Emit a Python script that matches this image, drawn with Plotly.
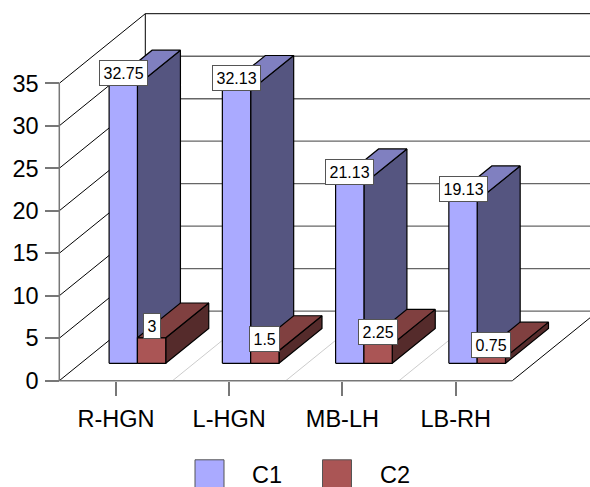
import plotly.graph_objects as go

# --- data ---
categories = ["R-HGN", "L-HGN", "MB-LH", "LB-RH"]
series_names = ["C1", "C2"]
c1_values = [32.75, 32.13, 21.13, 19.13]
c2_values = [3, 1.5, 2.25, 0.75]
y_ticks = [0, 5, 10, 15, 20, 25, 30, 35]

# --- style ---
FONT = "Liberation Sans"
C1_FACES = dict(front="#AAAAFF", top="#8080C0", side="#555580")
C2_FACES = dict(front="#AA5555", top="#804040", side="#552B2B")
GRID = "#666666"
AXIS = "#777777"
FLOOR = "#CCCCCC"

# --- figure geometry (pixels) ---
W, H = 590, 487
X0_PX, Y0_PX = 59.3, 380.7        # front-left floor corner
CAT_PX, UNIT_PX = 113.25, 8.497   # px per category, px per value unit
DEPTH_PX_X, DEPTH_PX_Y = 86.0, 69.6
DX = DEPTH_PX_X / CAT_PX          # oblique shift of full depth, in axis units
DY = DEPTH_PX_Y / UNIT_PX
BAR_W = 0.25
D_FRONT, D_BACK = 0.25, 0.75
n = len(categories)
top_val = y_ticks[-1]


def P(c, v, d):
    """Oblique projection: category pos, value, depth -> axis coordinates."""
    return c + d * DX, v + d * DY


def line(points, color, width):
    xs, ys = zip(*[P(*p) for p in points])
    return go.Scatter(x=xs, y=ys, mode="lines", showlegend=False, hoverinfo="skip",
                      line=dict(color=color, width=width), cliponaxis=True)


def face(points, color):
    xs, ys = zip(*[P(*p) for p in points])
    return go.Scatter(x=list(xs) + [xs[0]], y=list(ys) + [ys[0]], mode="lines",
                      fill="toself", fillcolor=color, showlegend=False, hoverinfo="skip",
                      line=dict(color="black", width=1.2))


fig = go.Figure()

# back wall and floor furniture
for v in y_ticks:
    if v != top_val:
        fig.add_trace(line([(0, v, 1), (n + 1, v, 1)], GRID, 1.4))
fig.add_trace(line([(0, top_val, 1), (n + 1, top_val, 1)], "black", 1))
fig.add_trace(line([(0, 0, 1), (0, top_val, 1)], "black", 1))
for v in y_ticks:
    fig.add_trace(line([(0, v, 0), (0, v, 1)], "black", 1))
for i in range(1, n):
    fig.add_trace(line([(i, 0, 0), (i, 0, 1)], FLOOR, 1))
fig.add_trace(line([(n, 0, 0), (n, 0, 1)], "black", 1))
fig.add_trace(line([(0, 0, 0), (n, 0, 0)], AXIS, 1.5))
fig.add_trace(line([(0, 0, 0), (0, top_val, 0)], AXIS, 1.5))


def bar(c_left, value, faces):
    c_right = c_left + BAR_W
    fig.add_trace(face([(c_right, 0, D_FRONT), (c_right, 0, D_BACK),
                        (c_right, value, D_BACK), (c_right, value, D_FRONT)], faces["side"]))
    fig.add_trace(face([(c_left, value, D_FRONT), (c_left, value, D_BACK),
                        (c_right, value, D_BACK), (c_right, value, D_FRONT)], faces["top"]))
    fig.add_trace(face([(c_left, 0, D_FRONT), (c_right, 0, D_FRONT),
                        (c_right, value, D_FRONT), (c_left, value, D_FRONT)], faces["front"]))


annotations = []


def value_label(c_left, value):
    x, y = P(c_left + BAR_W / 2, value, D_FRONT)
    annotations.append(dict(x=x, y=y, xref="x", yref="y", text=str(value), showarrow=False,
                            xanchor="center", yanchor="bottom", yshift=-1,
                            font=dict(family=FONT, size=16, color="black"),
                            bgcolor="white", bordercolor="#555555", borderwidth=1, borderpad=3.5))


for i in range(n):
    bar(i + 0.25, c1_values[i], C1_FACES)
    bar(i + 0.5, c2_values[i], C2_FACES)
for i in range(n):
    value_label(i + 0.25, c1_values[i])
    value_label(i + 0.5, c2_values[i])

# legend, placed in page coordinates
shapes = []
for name, faces, sw_x, txt_x in [(series_names[0], C1_FACES, 195, 252.7),
                                 (series_names[1], C2_FACES, 322.5, 380.7)]:
    shapes.append(dict(type="rect", xref="paper", yref="paper",
                       x0=sw_x / W, x1=(sw_x + 29) / W, y0=-0.01, y1=1 - 459.8 / H,
                       fillcolor=faces["front"], line=dict(color="#555555", width=1)))
    annotations.append(dict(xref="paper", yref="paper", x=txt_x / W, y=1 - 474.7 / H, text=name,
                            showarrow=False, xanchor="left", yanchor="middle",
                            xshift=-3, font=dict(family=FONT, size=23.5, color="black")))

fig.update_layout(
    width=W, height=H, margin=dict(l=0, r=0, t=0, b=0),
    paper_bgcolor="white", plot_bgcolor="white", showlegend=False, hovermode=False,
    annotations=annotations, shapes=shapes,
    font=dict(family=FONT, size=23.5, color="black"),
    xaxis=dict(range=[-X0_PX / CAT_PX, (W - X0_PX) / CAT_PX], showgrid=False, zeroline=False,
               showline=False, tickmode="array", tickvals=[i + 0.5 for i in range(n)],
               ticktext=categories, ticks="outside", ticklen=14, tickwidth=1.5, tickcolor=AXIS,
               anchor="free", position=(H - Y0_PX) / H, ticklabelstandoff=3,
               tickfont=dict(family=FONT, size=23.5, color="black")),
    yaxis=dict(range=[-(H - Y0_PX) / UNIT_PX, Y0_PX / UNIT_PX], showgrid=False, zeroline=False,
               showline=False, tickmode="array", tickvals=y_ticks, ticks="outside", ticklen=14,
               tickwidth=1.5, tickcolor=AXIS, anchor="free", position=X0_PX / W,
               ticklabelstandoff=2, tickfont=dict(family=FONT, size=23.5, color="black")),
)

fig.write_html("out.html", config=dict(displayModeBar=False),
               post_script="document.body.style.margin='0';document.body.style.overflow='hidden';")
